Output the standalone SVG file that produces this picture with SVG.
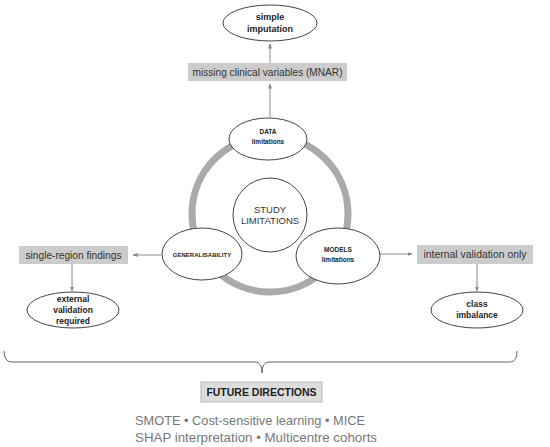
<svg xmlns="http://www.w3.org/2000/svg" width="550" height="447" viewBox="0 0 550 447">
<style>
.ell{fill:#fff;stroke:#444;stroke-width:1}
.box{fill:#cccccc;stroke:none}
.btxt{font-family:"Liberation Sans",Arial,sans-serif;font-weight:bold;fill:#222;text-anchor:middle}
.gtxt{font-family:"Liberation Sans",Arial,sans-serif;font-size:11px;fill:#333;text-anchor:middle}
.conn{stroke:#888;stroke-width:1;fill:none}
.fd{font-family:"Liberation Sans",Arial,sans-serif;font-size:13px;fill:#777}
</style>
<defs>
<marker id="ah" viewBox="0 0 10 10" refX="9" refY="5" markerWidth="5" markerHeight="5" orient="auto">
<path d="M0,1 L10,5 L0,9 z" fill="#888"/>
</marker>
</defs>
<rect width="550" height="447" fill="#fff"/>
<g id="ring">
<circle cx="270" cy="214" r="78" fill="none" stroke="#aaaaaa" stroke-width="7"/>
</g>
<g id="connectors">
<line class="conn" x1="270" y1="117" x2="270" y2="84" marker-end="url(#ah)"/>
<line class="conn" x1="270" y1="63" x2="270" y2="44" marker-end="url(#ah)"/>
<line class="conn" x1="161" y1="255" x2="133" y2="255" marker-end="url(#ah)"/>
<line class="conn" x1="72" y1="264" x2="72" y2="291" marker-end="url(#ah)"/>
<line class="conn" x1="380" y1="254" x2="412" y2="254" marker-end="url(#ah)"/>
<line class="conn" x1="477" y1="264" x2="477" y2="291" marker-end="url(#ah)"/>
<path d="M4,351 Q4,362 12,362 L255,362 Q262,362 262,373 Q262,362 269,362 L510,362 Q517,362 517,351" fill="none" stroke="#666" stroke-width="1"/>
</g>
<g id="simple-imputation">
<ellipse class="ell" cx="270" cy="23" rx="47" ry="18"/>
<text class="btxt" font-size="9" x="270" y="20">simple</text>
<text class="btxt" font-size="9" x="270" y="32">imputation</text>
</g>
<g id="missing-clinical">
<rect class="box" x="188" y="63" width="159" height="18"/>
<text class="gtxt" x="267.5" y="76" textLength="150" lengthAdjust="spacingAndGlyphs">missing clinical variables (MNAR)</text>
</g>
<g id="data">
<ellipse class="ell" cx="268" cy="139" rx="39" ry="21"/>
<text class="btxt" font-size="6.5" x="268" y="134">DATA</text>
<text class="btxt" font-size="6.5" x="268" y="144">limitations</text>
</g>
<g id="study">
<circle class="ell" cx="270" cy="215" r="37"/>
<text font-family="Liberation Sans,Arial,sans-serif" font-size="9.5" fill="#333" text-anchor="middle" x="270" y="213">STUDY</text>
<text font-family="Liberation Sans,Arial,sans-serif" font-size="9.5" fill="#333" text-anchor="middle" x="270" y="224">LIMITATIONS</text>
</g>
<g id="generalisability">
<ellipse class="ell" cx="202" cy="254" rx="40" ry="26"/>
<text class="btxt" font-size="6" x="202" y="257">GENERALISABILITY</text>
</g>
<g id="models">
<ellipse class="ell" cx="338" cy="256" rx="42" ry="28"/>
<text class="btxt" font-size="6.5" x="338" y="252">MODELS</text>
<text class="btxt" font-size="6.5" x="338" y="262">limitations</text>
</g>
<g id="single-region">
<rect class="box" x="19" y="246" width="109" height="18"/>
<text class="gtxt" x="73.5" y="259" textLength="96" lengthAdjust="spacingAndGlyphs">single-region findings</text>
</g>
<g id="external-validation">
<ellipse class="ell" cx="73" cy="310" rx="46" ry="18"/>
<text class="btxt" font-size="8.5" x="73" y="302">external</text>
<text class="btxt" font-size="8.5" x="73" y="313">validation</text>
<text class="btxt" font-size="8.5" x="73" y="324">required</text>
</g>
<g id="internal-validation">
<rect class="box" x="417" y="245" width="116" height="19"/>
<text class="gtxt" x="475" y="258" textLength="103" lengthAdjust="spacingAndGlyphs">internal validation only</text>
</g>
<g id="class-imbalance">
<ellipse class="ell" cx="477" cy="310" rx="46" ry="18"/>
<text class="btxt" font-size="8.5" x="477" y="307">class</text>
<text class="btxt" font-size="8.5" x="477" y="318">imbalance</text>
</g>
<g id="future-directions">
<rect x="201" y="382" width="121" height="20" fill="#dddddd" stroke="#aaaaaa" stroke-width="0.8"/>
<text class="btxt" font-size="10.5" x="261.5" y="396">FUTURE DIRECTIONS</text>
<text class="fd" x="135" y="425" textLength="230" lengthAdjust="spacingAndGlyphs">SMOTE • Cost-sensitive learning • MICE</text>
<text class="fd" x="135" y="442" textLength="242" lengthAdjust="spacingAndGlyphs">SHAP interpretation • Multicentre cohorts</text>
</g>
</svg>
